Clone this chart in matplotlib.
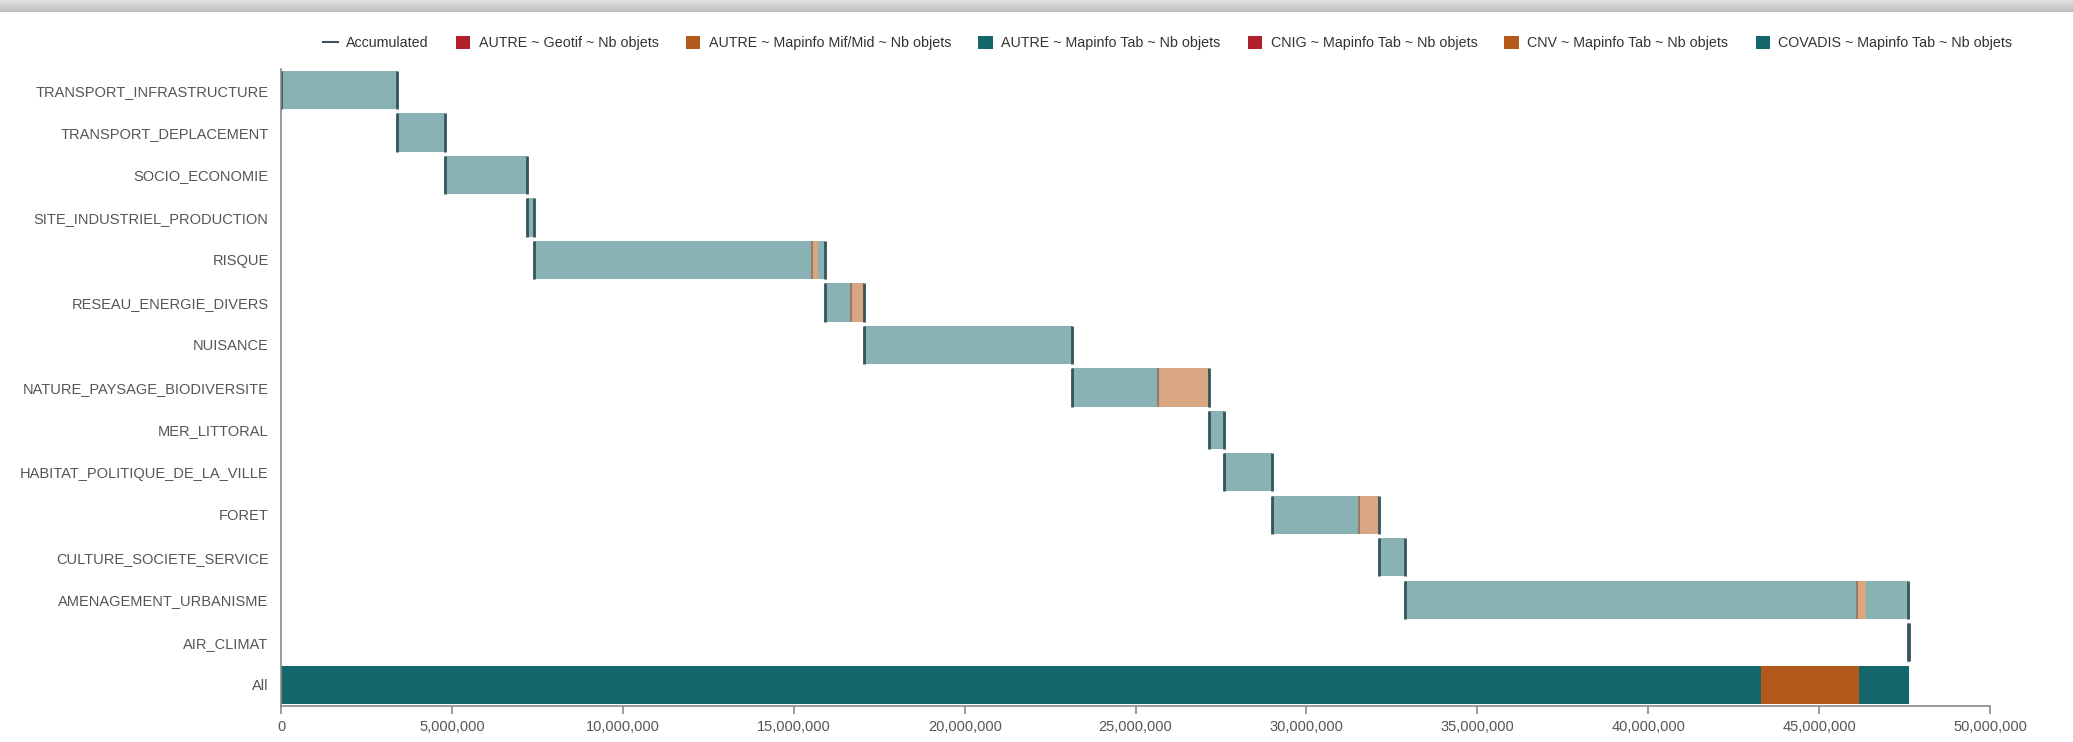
import numpy as np
import matplotlib
matplotlib.use("Agg")
from matplotlib import pyplot as plt
from matplotlib.lines import Line2D
from matplotlib.patches import Patch
from matplotlib.ticker import FuncFormatter

categories = [
    "TRANSPORT_INFRASTRUCTURE", "TRANSPORT_DEPLACEMENT", "SOCIO_ECONOMIE",
    "SITE_INDUSTRIEL_PRODUCTION", "RISQUE", "RESEAU_ENERGIE_DIVERS", "NUISANCE",
    "NATURE_PAYSAGE_BIODIVERSITE", "MER_LITTORAL", "HABITAT_POLITIQUE_DE_LA_VILLE",
    "FORET", "CULTURE_SOCIETE_SERVICE", "AMENAGEMENT_URBANISME", "AIR_CLIMAT",
]
series = [
    "AUTRE ~ Geotif ~ Nb objets",
    "AUTRE ~ Mapinfo Mif/Mid ~ Nb objets",
    "AUTRE ~ Mapinfo Tab ~ Nb objets",
    "CNIG ~ Mapinfo Tab ~ Nb objets",
    "CNV ~ Mapinfo Tab ~ Nb objets",
    "COVADIS ~ Mapinfo Tab ~ Nb objets",
]
autre_geotif = [0] * 14
autre_mifmid = [0] * 14
autre_tab = [3400000, 1390000, 2400000, 200000, 8150000, 760000, 6080000,
             2520000, 450000, 1410000, 2550000, 740000, 13240000, 20000]
cnig_tab = [0] * 14
cnv_tab = [0, 0, 0, 0, 160000, 370000, 0, 1490000, 0, 0, 580000, 0, 260000, 0]
covadis_tab = [0, 0, 0, 0, 220000, 0, 0, 0, 0, 0, 0, 0, 1230000, 0]

values = [autre_geotif, autre_mifmid, autre_tab, cnig_tab, cnv_tab, covadis_tab]
colors = ["#b0202a", "#b35a1a", "#13666a", "#b0202a", "#b35a1a", "#13666a"]
light = ["#d98f94", "#d9a683", "#88b2b3", "#d98f94", "#d9a683", "#88b2b3"]
acc_color = "#35535b"

plt.rcParams["font.family"] = ["Liberation Sans", "DejaVu Sans"]

fig = plt.figure(figsize=(20.73, 7.42), dpi=100)
ax = fig.add_axes([0.1356, 0.0485, 0.8244, 0.8588])

h = 0.9
total = 0
for i, cat in enumerate(categories):
    start = total
    for s in range(len(series)):
        v = values[s][i]
        if v > 0:
            ax.barh(i, v, left=total, height=h, color=light[s], linewidth=0)
            if s == 4:
                ax.vlines(total, i - h / 2, i + h / 2, color="#9a7a66", lw=1.5)
            total += v
    ax.vlines([start, total], i - h / 2, i + h / 2, color=acc_color, lw=2)

# "All" row: totals of each series stacked
n = len(categories)
left = 0
for s in range(len(series)):
    v = sum(values[s])
    if v > 0:
        ax.barh(n, v, left=left, height=h, color=colors[s], linewidth=0)
        left += v

ax.set_xlim(0, 50000000)
ax.set_ylim(n + 0.5, -0.5)
ax.set_yticks(range(n + 1))
ax.set_yticklabels(categories + ["All"])
ax.set_xticks(np.arange(0, 50000001, 5000000))
ax.xaxis.set_major_formatter(FuncFormatter(lambda x, p: f"{int(x):,}"))

for sp in ["top", "right"]:
    ax.spines[sp].set_visible(False)
for sp in ["left", "bottom"]:
    ax.spines[sp].set_color("#8a8a8a")
    ax.spines[sp].set_linewidth(1.2)
ax.tick_params(axis="y", length=0, pad=9, labelsize=10.5, labelcolor="#555555")
ax.tick_params(axis="x", length=6, width=1.2, color="#8a8a8a", pad=4,
               labelsize=10.5, labelcolor="#555555")

handles = [Line2D([0], [0], color=acc_color, lw=1.5)]
handles += [Patch(facecolor=c) for c in colors]
fig.legend(handles, ["Accumulated"] + series, loc="center right",
           bbox_to_anchor=(0.977, 0.942), ncol=7, frameon=False, fontsize=10.3,
           handlelength=1.0, handleheight=1.0, handletextpad=0.6,
           columnspacing=1.9, labelcolor="#333333")

# grey shadow band at the top
top = fig.add_axes([0, 1 - 12 / 742, 1, 12 / 742])
grad = np.linspace(0.88, 0.74, 20).reshape(-1, 1)
top.imshow(grad, aspect="auto", cmap="gray", vmin=0, vmax=1, extent=[0, 1, 0, 1])
top.axis("off")

fig.savefig("out.png", dpi=100)
